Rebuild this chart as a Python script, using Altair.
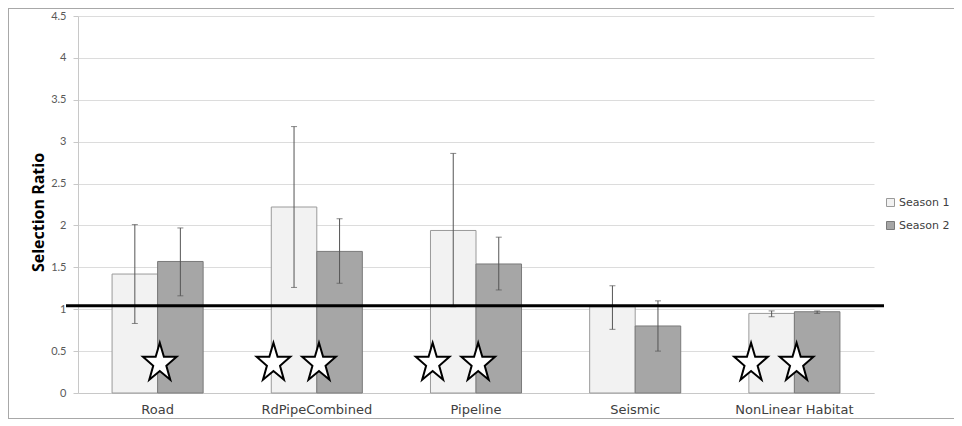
import altair as alt
import pandas as pd

categories = ["Road", "RdPipeCombined", "Pipeline", "Seismic", "NonLinear Habitat"]
series_names = ["Season 1", "Season 2"]

s1_mean = [1.42, 2.22, 1.94, 1.03, 0.95]
s1_low = [0.83, 1.26, 1.03, 0.76, 0.91]
s1_high = [2.01, 3.18, 2.86, 1.28, 0.98]

s2_mean = [1.57, 1.69, 1.54, 0.80, 0.97]
s2_low = [1.16, 1.31, 1.23, 0.50, 0.95]
s2_high = [1.97, 2.08, 1.86, 1.10, 0.98]

star_category = ["Road", "RdPipeCombined", "RdPipeCombined", "Pipeline", "Pipeline",
                 "NonLinear Habitat", "NonLinear Habitat"]
star_series = ["Season 2", "Season 1", "Season 2", "Season 1", "Season 2", "Season 1", "Season 2"]
star_value = [0.35] * 7

reference_line = [1.04]
y_ticks = [0, 0.5, 1, 1.5, 2, 2.5, 3, 3.5, 4, 4.5]

rows = []
for i, c in enumerate(categories):
    rows.append({"cat": c, "series": "Season 1", "mean": s1_mean[i], "lo": s1_low[i], "hi": s1_high[i]})
    rows.append({"cat": c, "series": "Season 2", "mean": s2_mean[i], "lo": s2_low[i], "hi": s2_high[i]})
df = pd.DataFrame(rows)
stars = pd.DataFrame({"cat": star_category, "series": star_series, "v": star_value})
ref = pd.DataFrame({"v": reference_line})
one = pd.DataFrame({"a": [0]})

x_axis = alt.Axis(labelAngle=0, ticks=False, labelPadding=10, labelFontSize=13,
                  labelColor="#404040", labelFont="DejaVu Sans", domainColor="#c8c8c8",
                  labelLimit=200, orient="bottom", grid=False)
x_enc = alt.X("cat:N", sort=categories, title=None,
              scale=alt.Scale(paddingInner=0.428, paddingOuter=0.214), axis=x_axis)
xo = alt.XOffset("series:N", sort=series_names, scale=alt.Scale(paddingInner=0, paddingOuter=0))
y_scale = alt.Scale(domain=[0, 4.5], nice=False)
y_axis = alt.Axis(values=y_ticks, format=".1~f", labelFontSize=11, labelColor="#595959",
                  labelFont="Lato", tickSize=5, tickColor="#c8c8c8", labelPadding=7,
                  domainColor="#c8c8c8", gridColor="#dcdcdc",
                  titleFont="Open Sans", titleFontSize=16, titleFontWeight="bold",
                  titleColor="#000000", titleX=-40, titleY=196, titleBaseline="middle")
y_title = "Selection Ratio"

base = alt.Chart(df)

bars = base.mark_bar(strokeWidth=1).encode(
    x=x_enc,
    xOffset=xo,
    y=alt.Y("mean:Q", scale=y_scale, title=y_title, axis=y_axis),
    fill=alt.Fill("series:N", sort=series_names, title=None,
                  scale=alt.Scale(domain=series_names, range=["#f2f2f2", "#a6a6a6"]),
                  legend=alt.Legend(orient="none", legendX=807, legendY=181)),
    stroke=alt.Stroke("series:N", sort=series_names, title=None,
                      scale=alt.Scale(domain=series_names, range=["#9a9a9a", "#7a7a7a"]),
                      legend=alt.Legend(orient="none", legendX=807, legendY=181)),
)

err = base.mark_rule(color="#555555", strokeWidth=1).encode(
    x=x_enc, xOffset=xo,
    y=alt.Y("lo:Q", scale=y_scale, title=y_title, axis=y_axis), y2="hi:Q")
cap_lo = base.mark_tick(color="#555555", thickness=1, size=6).encode(
    x=x_enc, xOffset=xo, y=alt.Y("lo:Q", scale=y_scale, title=y_title, axis=y_axis))
cap_hi = base.mark_tick(color="#555555", thickness=1, size=6).encode(
    x=x_enc, xOffset=xo, y=alt.Y("hi:Q", scale=y_scale, title=y_title, axis=y_axis))

line = alt.Chart(ref).mark_rule(color="#000000", strokeWidth=3).encode(
    y=alt.Y("v:Q", scale=y_scale, title=y_title, axis=y_axis),
    x=alt.value(-12), x2=alt.value(806))

# five-pointed star outline, drawn a little left of the bar centre
star_path = ("M -1.1 -1.12 L -0.88 -0.37 L -0.2 -0.37 L -0.75 0.11 L -0.54 0.86 "
             "L -1.1 0.39 L -1.66 0.86 L -1.45 0.11 L -2.0 -0.37 L -1.32 -0.37 Z")
star_layer = alt.Chart(stars).mark_point(shape=star_path, filled=True, fill="#ffffff",
                                         stroke="#000000", strokeWidth=2, size=1400,
                                         opacity=1).encode(
    x=x_enc, xOffset=xo,
    y=alt.Y("v:Q", scale=y_scale, title=y_title, axis=y_axis))

frame_col = "#a8a8a8"
frame_top = alt.Chart(one).mark_rule(color=frame_col, strokeWidth=1).encode(
    x=alt.value(-70), x2=alt.value(876), y=alt.value(-7.5))
frame_left = alt.Chart(one).mark_rule(color=frame_col, strokeWidth=1).encode(
    x=alt.value(-69.5), y=alt.value(-8), y2=alt.value(403))
frame_bottom = alt.Chart(one).mark_rule(color=frame_col, strokeWidth=1).encode(
    x=alt.value(-70), x2=alt.value(876), y=alt.value(402.5))

chart = alt.layer(bars, err, cap_lo, cap_hi, line, star_layer,
                  frame_top, frame_left, frame_bottom).properties(
    width=796, height=377,
    autosize=alt.AutoSizeParams(type="none"),
    padding={"left": 70, "top": 8, "right": 80, "bottom": 26},
).configure_view(stroke=None).configure_legend(
    symbolType="square", symbolSize=64,
    labelFont="DejaVu Sans", labelFontSize=11, labelColor="#404040", rowPadding=10,
    symbolStrokeWidth=1, padding=0, labelOffset=3
)

chart.save("out.html", embed_options={"renderer": "svg", "actions": False})
